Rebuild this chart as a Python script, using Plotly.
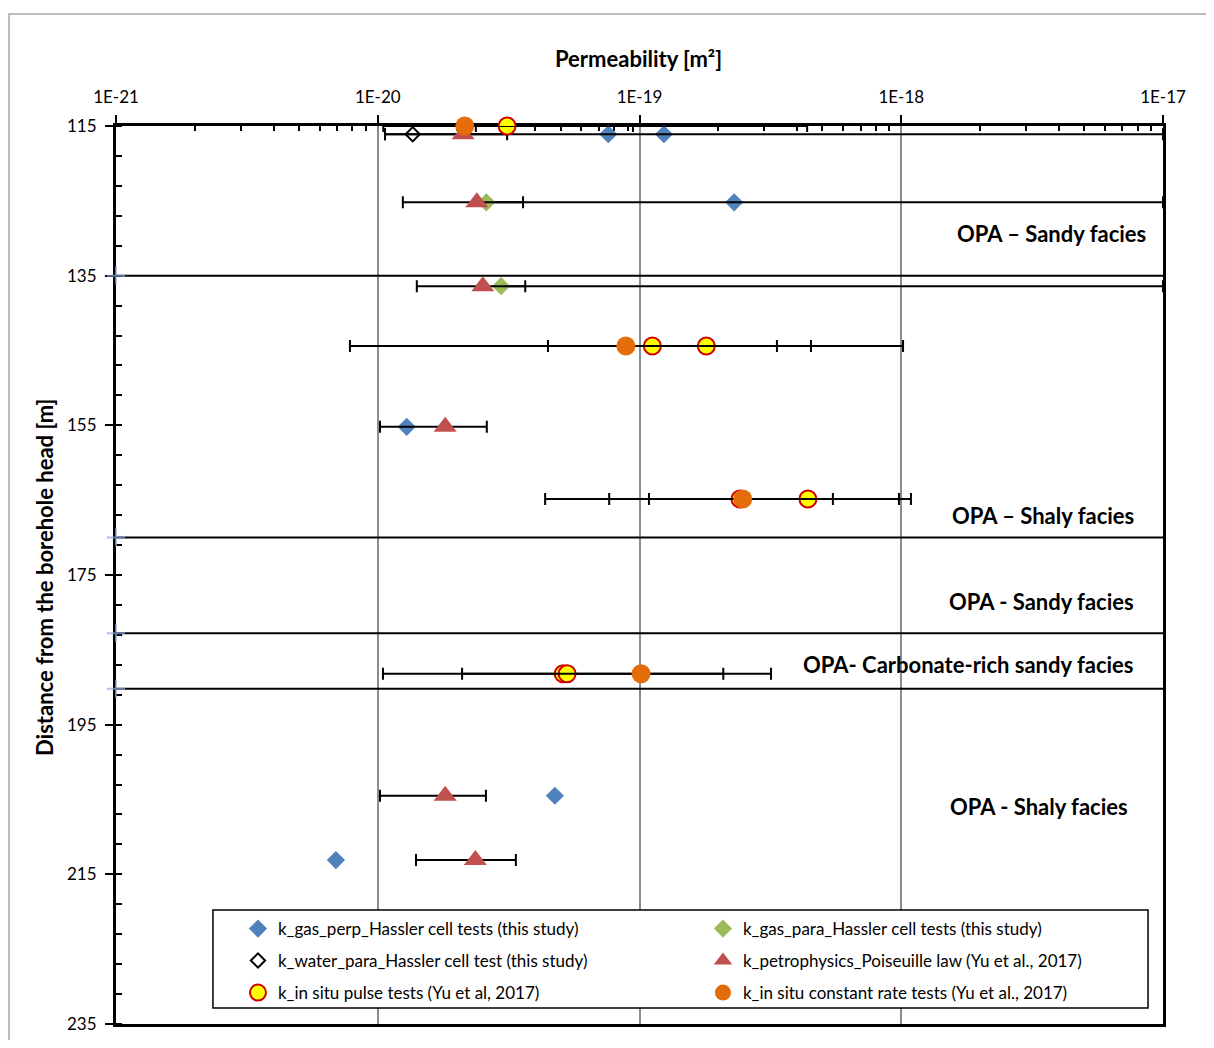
import plotly.graph_objects as go

# ---------------- data ----------------
# x-axis ticks
x_tick_vals = [1e-21, 1e-20, 1e-19, 1e-18, 1e-17]
x_tick_text = ["1E-21", "1E-20", "1E-19", "1E-18", "1E-17"]

# k_gas_perp_Hassler cell tests (this study)
gas_perp_depth = [116.1, 116.1, 125.2, 155.2, 204.5, 213.1]
gas_perp_k = [7.6e-20, 1.24e-19, 2.3e-19, 1.29e-20, 4.75e-20, 6.92e-21]

# k_gas_para_Hassler cell tests (this study)
gas_para_depth = [125.2, 136.4]
gas_para_k = [2.6e-20, 2.96e-20]
gas_para_lo = [2.6e-20, 2.96e-20]
gas_para_hi = [1e-17, 1e-17]

# k_water_para_Hassler cell test (this study)
water_depth = [116.1]
water_k = [1.36e-20]
water_lo = [1.066e-20]
water_hi = [1e-17]

# k_petrophysics_Poiseuille law (Yu et al., 2017)
petro_depth = [116.1, 125.2, 136.4, 155.2, 204.5, 213.1]
petro_k = [2.12e-20, 2.39e-20, 2.52e-20, 1.81e-20, 1.81e-20, 2.36e-20]
petro_lo = [1.066e-20, 1.247e-20, 1.41e-20, 1.02e-20, 1.02e-20, 1.40e-20]
petro_hi = [3.12e-20, 3.59e-20, 3.66e-20, 2.61e-20, 2.59e-20, 3.37e-20]

# k_in situ pulse tests (Yu et al, 2017)
pulse_depth = [115.0, 144.4, 144.4, 164.85, 164.85, 188.2, 188.2]
pulse_k = [3.12e-20, 1.12e-19, 1.8e-19, 2.42e-19, 4.4e-19, 5.11e-20, 5.29e-20]
pulse_lo = [2.37e-20, 4.47e-20, 4.47e-20, 7.66e-20, 1.087e-19, 2.10e-20, 5.29e-20]
pulse_hi = [4.37e-19, 3.35e-19, 4.52e-19, 9.8e-19, 5.48e-19, 2.09e-19, 5.29e-20]

# k_in situ constant rate tests (Yu et al., 2017)
const_depth = [115.0, 144.4, 164.85, 188.2]
const_k = [2.15e-20, 8.87e-20, 2.48e-19, 1.014e-19]
const_lo = [1.05e-20, 7.83e-21, 4.36e-20, 1.047e-20]
const_hi = [9.44e-20, 1.016e-18, 1.089e-18, 3.18e-19]

# facies boundaries (depth, m)
boundary_depth = [135.0, 170.0, 182.8, 190.2]
boundary_x_range = [1e-21, 1e-17]

# facies labels (text, depth of label)
facies_text = ["OPA – Sandy facies", "OPA – Shaly facies", "OPA - Sandy facies",
               "OPA- Carbonate-rich sandy facies", "OPA - Shaly facies"]
facies_label_depth = [129.4, 167.0, 178.5, 187.0, 205.9]
facies_label_xpaper = [0.9857, 0.9742, 0.9742, 0.9742, 0.9685]

FONT = "Lato"


def err(k, lo, hi):
    return dict(type="data", symmetric=False,
                array=[h - v for v, h in zip(k, hi)],
                arrayminus=[v - l for v, l in zip(k, lo)],
                color="black", thickness=2, width=6)


fig = go.Figure()

# boundaries
bx, by, bs = [], [], []
for d in boundary_depth:
    bx += [boundary_x_range[0], boundary_x_range[1], None]
    by += [d, d, None]
    bs += [13, 0, 0]
fig.add_trace(go.Scatter(
    x=bx, y=by, mode="lines+markers", showlegend=False, hoverinfo="skip",
    line=dict(color="black", width=2),
    marker=dict(symbol="cross-thin", size=bs, line=dict(color="#8EA9DB", width=2)),
    cliponaxis=False))

fig.add_trace(go.Scatter(
    x=gas_perp_k, y=gas_perp_depth, mode="markers", legend="legend",
    name="k_gas_perp_Hassler cell tests (this study)",
    marker=dict(symbol="diamond", size=14, color="#4F81BD"), cliponaxis=False))

fig.add_trace(go.Scatter(
    x=gas_para_k, y=gas_para_depth, mode="markers", legend="legend",
    name="k_gas_para_Hassler cell tests (this study)",
    error_x=err(gas_para_k, gas_para_lo, gas_para_hi),
    marker=dict(symbol="diamond", size=14, color="#9BBB59"), cliponaxis=False))

fig.add_trace(go.Scatter(
    x=water_k, y=water_depth, mode="markers", legend="legend2",
    name="k_water_para_Hassler cell test (this study)",
    error_x=err(water_k, water_lo, water_hi),
    marker=dict(symbol="diamond-open", size=11, color="black", line=dict(width=2)),
    cliponaxis=False))

fig.add_trace(go.Scatter(
    x=petro_k, y=petro_depth, mode="markers", legend="legend2",
    name="k_petrophysics_Poiseuille law (Yu et al., 2017)",
    error_x=err(petro_k, petro_lo, petro_hi),
    marker=dict(symbol="triangle-up", size=20, color="#C0504D"), cliponaxis=False))

fig.add_trace(go.Scatter(
    x=pulse_k, y=pulse_depth, mode="markers", legend="legend3",
    name="k_in situ pulse tests (Yu et al, 2017)",
    error_x=err(pulse_k, pulse_lo, pulse_hi),
    marker=dict(symbol="circle", size=17, color="#FFFF00",
                line=dict(color="#D00000", width=2)), cliponaxis=False))

fig.add_trace(go.Scatter(
    x=const_k, y=const_depth, mode="markers", legend="legend3",
    name="k_in situ constant rate tests (Yu et al., 2017)",
    error_x=err(const_k, const_lo, const_hi),
    marker=dict(symbol="circle", size=19, color="#E46C0A"), cliponaxis=False))

minor_vals = [m * 10.0 ** e for e in range(-21, -17) for m in range(2, 10)]

legend_common = dict(orientation="h", xanchor="left", yanchor="middle",
                     entrywidth=420, bgcolor="rgba(0,0,0,0)", borderwidth=0,
                     font=dict(family=FONT, size=17))

fig.update_layout(
    width=1198, height=1032,
    margin=dict(l=108, r=43, t=118, b=16, autoexpand=False),
    paper_bgcolor="white", plot_bgcolor="white",
    font=dict(family=FONT, size=17, color="black"),
    xaxis=dict(type="log", range=[-21, -17], side="top", layer="below traces",
               automargin=False,
               tickmode="array", tickvals=x_tick_vals, ticktext=x_tick_text,
               ticks="outside", ticklen=8, tickwidth=2, tickcolor="black",
               ticklabelstandoff=5,
               showgrid=True, gridcolor="#8C8C8C", gridwidth=1.5,
               showline=True, linewidth=3, linecolor="black", mirror=True,
               zeroline=False, tickfont=dict(family=FONT, size=17),
               minor=dict(tickmode="array", tickvals=minor_vals, ticks="inside",
                          ticklen=5, tickwidth=1.5, tickcolor="black", showgrid=False)),
    yaxis=dict(range=[235, 115], tick0=115, dtick=20, layer="below traces",
               automargin=False,
               ticks="outside", ticklen=8, tickwidth=2, tickcolor="black",
               ticklabelstandoff=5,
               showgrid=False, showline=True, linewidth=3, linecolor="black",
               mirror=True, zeroline=False, tickfont=dict(family=FONT, size=17),
               minor=dict(tick0=115, dtick=4, ticks="inside", ticklen=6,
                          tickwidth=1.5, tickcolor="black", showgrid=False)),
    legend=dict(legend_common, x=0.1165, y=0.1058),
    legend2=dict(legend_common, x=0.1165, y=0.0702),
    legend3=dict(legend_common, x=0.1165, y=0.0345),
    showlegend=True,
)

# outer chart border and legend box
fig.add_shape(type="rect", xref="paper", yref="paper", x0=-0.1022, x1=1.08,
              y0=-0.05, y1=1.1247, line=dict(color="#A6A6A6", width=1.5), layer="below")
fig.add_shape(type="rect", xref="paper", yref="paper", x0=0.0926, x1=0.9857,
              y0=0.0178, y1=0.1269, fillcolor="white",
              line=dict(color="black", width=1.5), layer="above")

# axis titles
fig.add_annotation(text="<b>Permeability [m²]</b>", xref="paper", yref="paper",
                   x=0.4995, y=1.0757, showarrow=False, xanchor="center", yanchor="middle",
                   font=dict(family=FONT, size=22))
fig.add_annotation(text="<b>Distance from the borehole head [m]</b>", xref="paper", yref="paper",
                   x=-0.0678, y=0.4978, showarrow=False, textangle=-90,
                   xanchor="center", yanchor="middle", font=dict(family=FONT, size=22))

for t, d, xp in zip(facies_text, facies_label_depth, facies_label_xpaper):
    fig.add_annotation(text="<b>" + t + "</b>", xref="paper", yref="y", x=xp, y=d,
                       showarrow=False, xanchor="right", yanchor="middle",
                       font=dict(family=FONT, size=22))

fig.write_html("out.html")
